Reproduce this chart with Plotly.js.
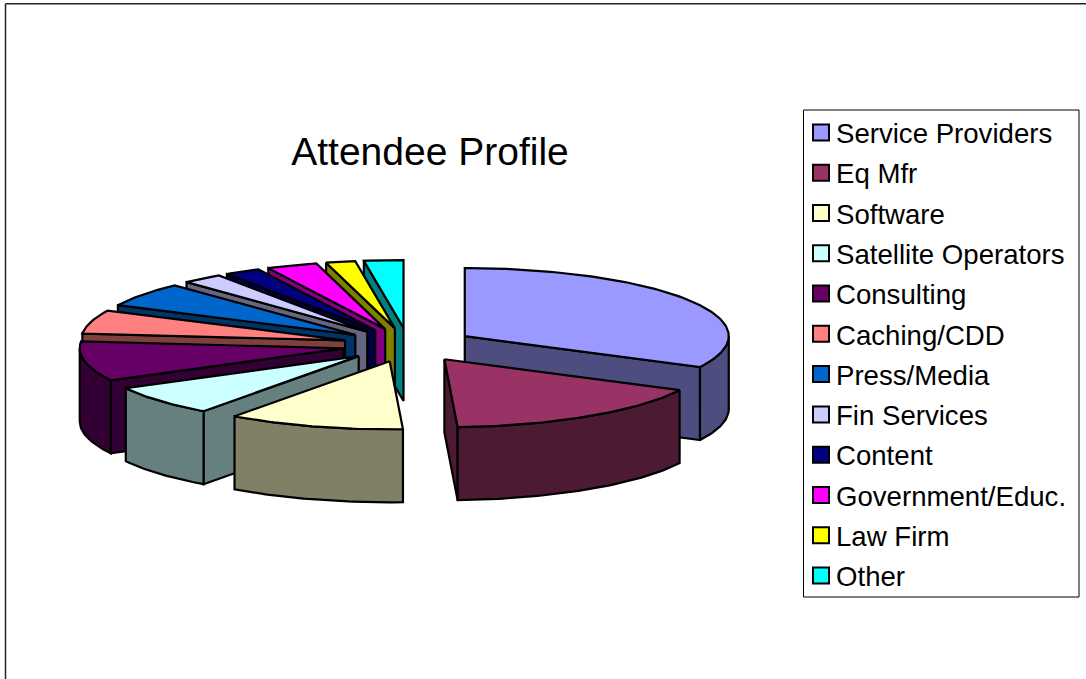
<!DOCTYPE html>
<html><head><meta charset="utf-8">
<script src="https://cdn.plot.ly/plotly-3.0.0.min.js"></script>
<style>html,body{margin:0;padding:0;background:#fff}#c{width:1086px;height:679px}</style>
</head><body><div id="c"></div>
<script>
const categories = ["Service Providers","Eq Mfr","Software","Satellite Operators","Consulting","Caching/CDD","Press/Media","Fin Services","Content","Government/Educ.","Law Firm","Other"];
const shares = [32.5,16.7,10.8,7.2,9.4,5.6,5.8,2.5,2.2,3.1,1.8,2.4];
const topColors = ["#9999FF","#993366","#FFFFCC","#CCFFFF","#660066","#FF8080","#0066CC","#CCCCFF","#000080","#FF00FF","#FFFF00","#00FFFF"];
const sideColors = ["#4D4D80","#4D1A33","#808066","#668080","#330033","#804040","#003366","#666680","#000040","#800080","#808000","#008080"];
const drawOrder = [11,10,9,8,7,6,5,0,4,3,1,2];
const CX=408.5, CY=345, RX=264, RY=68, DEPTH=73, EXPLODE=0.25;

const total = shares.reduce((a,b)=>a+b,0);
let acc=0;
const slices = shares.map(v=>{const s=acc/total*360; acc+=v; return {a1:s,a2:acc/total*360};});
const rad=d=>d*Math.PI/180;
function face(name,color,pts){
  return {type:'scatter',mode:'lines',x:pts.map(p=>p[0]),y:pts.map(p=>p[1]),fill:'toself',fillcolor:color,
    line:{color:'#000',width:2.2,shape:'linear'},showlegend:false,hoverinfo:'text',text:name,name:name};
}
const traces=[];
drawOrder.forEach(i=>{
  const {a1,a2}=slices[i], mid=(a1+a2)/2;
  const ox=CX+EXPLODE*RX*Math.sin(rad(mid)), oy=CY-EXPLODE*RY*Math.cos(rad(mid));
  const P=(a,d=0)=>[ox+RX*Math.sin(rad(a)),oy-RY*Math.cos(rad(a))+d];
  const arc=(s,e,d=0)=>{const out=[],n=Math.max(2,Math.ceil(Math.abs(e-s)));for(let k=0;k<=n;k++)out.push(P(s+(e-s)*k/n,d));return out;};
  const apexTop=[ox,oy], apexBot=[ox,oy+DEPTH];
  if(Math.sin(rad(a1))<-1e-6) traces.push(face(categories[i],sideColors[i],[apexTop,P(a1),P(a1,DEPTH),apexBot,apexTop]));
  if(Math.sin(rad(a2))>1e-6) traces.push(face(categories[i],sideColors[i],[apexTop,P(a2),P(a2,DEPTH),apexBot,apexTop]));
  const w1=Math.max(a1,90), w2=Math.min(a2,270);
  if(w2>w1){const t=arc(w1,w2), b=arc(w2,w1,DEPTH); traces.push(face(categories[i],sideColors[i],t.concat(b,[t[0]])));}
  const tp=[apexTop].concat(arc(a1,a2),[apexTop]);
  traces.push(face(categories[i],topColors[i],tp));
});
categories.forEach((c,i)=>traces.push({type:'scatter',mode:'markers',x:[null],y:[null],name:c,showlegend:true,legendgroup:c,
  marker:{symbol:'square',size:16,color:topColors[i],line:{color:'#000',width:2}}}));
const layout={
  width:1086,height:679,margin:{l:0,r:0,t:0,b:0},paper_bgcolor:'#fff',plot_bgcolor:'#fff',
  font:{family:'"Liberation Sans",Arial,sans-serif',color:'#000'},
  title:{text:'Attendee Profile',font:{size:39,color:'#000'},x:430/1086,xref:'paper',xanchor:'center',y:1-151/679,yref:'paper',yanchor:'middle'},
  xaxis:{range:[0,1086],visible:false,fixedrange:true},
  yaxis:{range:[679,0],visible:false,fixedrange:true},
  showlegend:true,
  legend:{x:796/1086,y:1-108/679,xanchor:'left',yanchor:'top',borderwidth:0,bgcolor:'rgba(0,0,0,0)',
    font:{size:27.6,color:'#000'},tracegroupgap:1.4,itemwidth:30,traceorder:'grouped'},
  shapes:[
    {type:'rect',xref:'paper',yref:'paper',x0:803.5/1086,x1:1079/1086,y0:1-597/679,y1:1-110/679,line:{color:'#000',width:1},fillcolor:'#fff',layer:'below'},
    {type:'line',xref:'paper',yref:'paper',x0:5.5/1086,x1:1,y0:1-3.7/679,y1:1-3.7/679,line:{color:'#222',width:1.5},layer:'below'},
    {type:'line',xref:'paper',yref:'paper',x0:5.5/1086,x1:5.5/1086,y0:0,y1:1-3.7/679,line:{color:'#222',width:1.5},layer:'below'}
  ]
};
Plotly.newPlot('c',traces,layout,{displayModeBar:false,staticPlot:true}).then(()=>{
  document.querySelectorAll('.legend .legendpoints').forEach(g=>g.setAttribute('transform','translate(5,0)'));
});
</script></body></html>
